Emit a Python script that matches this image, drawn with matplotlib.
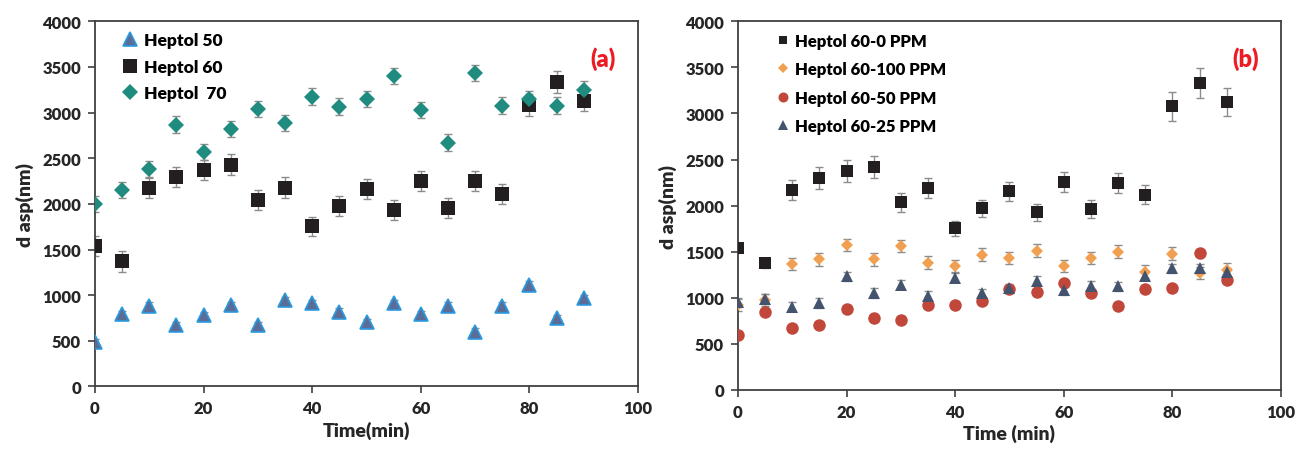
import matplotlib.pyplot as plt
import numpy as np

plt.rcParams['font.family'] = ['Lato', 'DejaVu Sans']
plt.rcParams['font.weight'] = 'heavy'

time_min = np.arange(0, 95, 5)

# Panel (a)
h50 = [490, 795, 887, 675, 785, 894, 675, 942, 912, 821, 704, 912, 795, 887, 602, 887, 1117, 748, 971]
h50_err = [35] * 19
h60 = [1536, 1372, 2172, 2292, 2376, 2427, 2040, 2179, 1755, 1974, 2161, 1931, 2248, 1953, 2248, 2106, 3084, 3332, 3124]
h60_err = [110, 115, 110, 110, 110, 115, 110, 115, 105, 110, 110, 110, 110, 110, 110, 110, 120, 120, 110]
h70 = [2000, 2150, 2380, 2869, 2566, 2821, 3040, 2883, 3175, 3066, 3150, 3398, 3029, 2672, 3431, 3077, 3150, 3077, 3252]
h70_err = [90] * 19

# Panel (b)
p0 = [1537, 1378, 2170, 2300, 2376, 2423, 2036, 2195, 1754, 1971, 2156, 1928, 2253, 1964, 2242, 2119, 3078, 3331, 3125]
p0_err = [40, 50, 105, 115, 115, 120, 100, 110, 80, 90, 105, 95, 110, 95, 110, 105, 157, 165, 155]
p100 = [922, 976, 1367, 1418, 1573, 1418, 1562, 1382, 1345, 1465, 1432, 1512, 1345, 1432, 1501, 1284, 1476, 1269, 1306]
p100_err = [70] * 19
p50 = [597, 843, 669, 705, 879, 778, 759, 922, 922, 969, 1096, 1067, 1157, 1056, 915, 1096, 1107, 1483, 1193]
p50_err = [30] * 19
p25 = [951, 987, 904, 944, 1233, 1052, 1143, 1024, 1219, 1049, 1103, 1186, 1085, 1132, 1125, 1241, 1320, 1320, 1277]
p25_err = [50] * 19

fig = plt.figure(figsize=(12.96, 4.52), dpi=100)
ax1 = fig.add_axes([0.0733, 0.1427, 0.419, 0.808])
ax2 = fig.add_axes([0.5694, 0.135, 0.419, 0.8157])


def series(ax, y, err, label, marker, ms, face, edge=None, mew=0):
    ax.errorbar(time_min, y, yerr=err, fmt='none', ecolor='#8c8c8c',
                elinewidth=1.0, capsize=3, capthick=1.0, zorder=2)
    ax.plot(time_min, y, linestyle='none', marker=marker, ms=ms,
            mfc=face, mec=edge if edge else face, mew=mew, label=label, zorder=3)


series(ax1, h50, h50_err, 'Heptol 50', '^', 10, '#5a6d99', '#2b9be0', 1.2)
series(ax1, h60, h60_err, 'Heptol 60', 's', 9.5, '#231f20')
series(ax1, h70, h70_err, 'Heptol  70', 'D', 8, '#1f8c7f')

series(ax2, p0, p0_err, 'Heptol 60-0 PPM', 's', 8, '#231f20')
series(ax2, p100, p100_err, 'Heptol 60-100 PPM', 'D', 6.5, '#f0a050')
series(ax2, p50, p50_err, 'Heptol 60-50 PPM', 'o', 9, '#c0473a')
series(ax2, p25, p25_err, 'Heptol 60-25 PPM', '^', 8.5, '#44536e')

for ax, xlab, tag in [(ax1, 'Time(min)', '(a)'), (ax2, 'Time (min)', '(b)')]:
    ax.set_xlim(0, 100)
    ax.set_ylim(0, 4000)
    ax.set_xticks(np.arange(0, 101, 20))
    ax.set_yticks(np.arange(0, 4001, 500))
    ax.tick_params(axis='both', direction='out', length=5, width=1.2,
                   color='#404040', labelsize=12, labelcolor='#262626', pad=5)
    for s in ax.spines.values():
        s.set_color('#404040')
        s.set_linewidth(1.3)
    ax.set_xlabel(xlab, fontsize=14, fontweight='heavy', color='#262626', labelpad=3)
    ax.set_ylabel('d asp(nm)', fontsize=14, fontweight='heavy', color='#262626', labelpad=6)
    ax.text(0.935, 0.9, tag, transform=ax.transAxes, color='#ed1c24',
            fontsize=17, fontweight='heavy', ha='center', va='center')

ax1.legend(loc='upper left', bbox_to_anchor=(0.02, 1.013), frameon=False,
           handletextpad=0.3, labelspacing=0.6, handlelength=1.0,
           prop={'size': 12.5, 'weight': 'heavy'}, numpoints=1)
ax2.legend(loc='upper left', bbox_to_anchor=(0.04, 1.01), frameon=False,
           handletextpad=0.25, labelspacing=0.75, handlelength=1.0,
           prop={'size': 12, 'weight': 'heavy'}, numpoints=1, markerscale=0.8)

plt.savefig('out.png', dpi=100)
